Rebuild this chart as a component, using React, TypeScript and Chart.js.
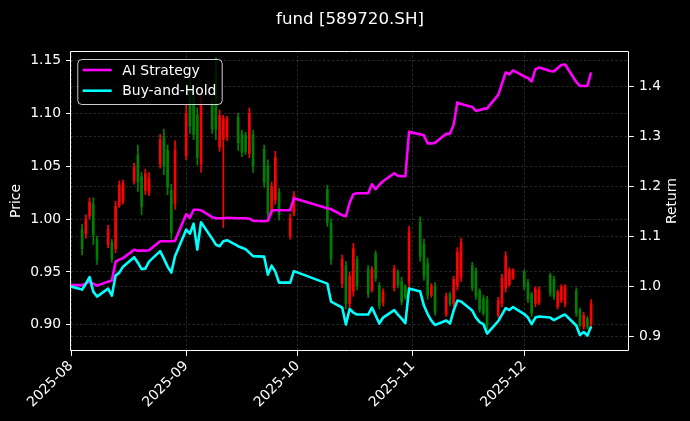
import React, { useEffect, useRef } from "react";
import { Chart, registerables } from "chart.js";

Chart.register(...registerables);
Chart.defaults.font.family = "'DejaVu Sans', sans-serif";
Chart.defaults.color = "#ffffff";

const chartTitle = "fund [589720.SH]";
const priceLabel = "Price";
const returnLabel = "Return";

const tradeDates = [
  "2025-08-01", "2025-08-04", "2025-08-05", "2025-08-06", "2025-08-07", "2025-08-08",
  "2025-08-11", "2025-08-12", "2025-08-13", "2025-08-14", "2025-08-15",
  "2025-08-18", "2025-08-19", "2025-08-20", "2025-08-21", "2025-08-22",
  "2025-08-25", "2025-08-26", "2025-08-27", "2025-08-28", "2025-08-29",
  "2025-09-01", "2025-09-02", "2025-09-03", "2025-09-04", "2025-09-05",
  "2025-09-08", "2025-09-09", "2025-09-10", "2025-09-11", "2025-09-12",
  "2025-09-15", "2025-09-16", "2025-09-17", "2025-09-18", "2025-09-19",
  "2025-09-22", "2025-09-23", "2025-09-24", "2025-09-25", "2025-09-26",
  "2025-09-29", "2025-09-30",
  "2025-10-09", "2025-10-10",
  "2025-10-13", "2025-10-14", "2025-10-15", "2025-10-16", "2025-10-17",
  "2025-10-20", "2025-10-21", "2025-10-22", "2025-10-23", "2025-10-24",
  "2025-10-27", "2025-10-28", "2025-10-29", "2025-10-30", "2025-10-31",
  "2025-11-03", "2025-11-04", "2025-11-05", "2025-11-06", "2025-11-07",
  "2025-11-10", "2025-11-11", "2025-11-12", "2025-11-13", "2025-11-14",
  "2025-11-17", "2025-11-18", "2025-11-19", "2025-11-20", "2025-11-21",
  "2025-11-24", "2025-11-25", "2025-11-26", "2025-11-27", "2025-11-28",
  "2025-12-01", "2025-12-02", "2025-12-03", "2025-12-04", "2025-12-05",
  "2025-12-08", "2025-12-09", "2025-12-10", "2025-12-11", "2025-12-12",
  "2025-12-15", "2025-12-16", "2025-12-17", "2025-12-18", "2025-12-19",
];

const aiStrategy = [
  1.002, 1.002, 1.005, 1.009, 1.005, 1.001,
  1.009, 1.011, 1.049, 1.053, 1.056,
  1.073, 1.071, 1.071, 1.071, 1.072,
  1.090, 1.090, 1.090, 1.090, 1.091,
  1.144, 1.137, 1.153, 1.153, 1.152,
  1.138, 1.136, 1.136, 1.136, 1.137,
  1.136, 1.136, 1.136, 1.135, 1.131,
  1.130, 1.131, 1.151, 1.152, 1.152,
  1.152, 1.176,
  1.156, 1.154,
  1.142, 1.140, 1.167, 1.184, 1.186,
  1.186, 1.204, 1.194, 1.203, 1.210,
  1.226, 1.221, 1.220, 1.220, 1.309,
  1.304, 1.302, 1.286, 1.286, 1.287,
  1.305, 1.305, 1.323, 1.368, 1.365,
  1.359, 1.351, 1.353, 1.355, 1.356,
  1.383, 1.405, 1.428, 1.424, 1.432,
  1.420, 1.417, 1.410, 1.434, 1.438,
  1.431, 1.430, 1.437, 1.443, 1.444,
  1.409, 1.401, 1.401, 1.401, 1.428,
];

const buyAndHold = [
  0.999, 0.993, 1.005, 1.018, 0.989, 0.979,
  0.995, 0.981, 1.021, 1.027, 1.039,
  1.058, 1.047, 1.034, 1.035, 1.049,
  1.070, 1.055, 1.039, 1.027, 1.060,
  1.113, 1.105, 1.125, 1.073, 1.128,
  1.095, 1.083, 1.080, 1.090, 1.092,
  1.080, 1.077, 1.074, 1.067, 1.060,
  1.059, 1.023, 1.041, 1.029, 1.007,
  1.007, 1.030,
  1.005, 0.969,
  0.957, 0.923, 0.954, 0.947, 0.943,
  0.943, 0.957, 0.941, 0.925, 0.937,
  0.952, 0.943, 0.935, 0.926, 0.995,
  0.989, 0.961, 0.944, 0.931, 0.922,
  0.931, 0.925, 0.951, 0.971, 0.969,
  0.951, 0.937, 0.928, 0.924, 0.905,
  0.930, 0.943, 0.956, 0.952, 0.958,
  0.944, 0.937, 0.924, 0.937, 0.939,
  0.937, 0.932, 0.936, 0.940, 0.943,
  0.921, 0.902, 0.908, 0.901, 0.919,
];

const openPrice = [
  null, 0.990, 0.986, 1.003, 1.014, 0.981,
  0.976, 0.978, 0.972, 1.013, 1.017,
  1.036, 1.060, 1.040, 1.027, 1.025,
  1.052, 1.078, 1.065, 1.027, 1.015,
  1.060, 1.125, 1.115, 1.098, 1.052,
  1.108, 1.140, 1.068, 1.075, 1.078,
  1.096, 1.080, 1.079, 1.062, 1.080,
  1.066, 1.050, 1.008, 1.018, 1.025,
  0.984, 1.006,
  1.028, 0.996,
  0.939, 0.956, 0.920, 0.932, 0.962,
  0.953, 0.933, 0.967, 0.937, 0.921,
  0.935, 0.950, 0.941, 0.936, 0.940,
  0.997, 0.976, 0.958, 0.928, 0.936,
  0.910, 0.929, 0.920, 0.937, 0.945,
  0.956, 0.951, 0.932, 0.925, 0.924,
  0.909, 0.920, 0.935, 0.938, 0.944,
  0.950, 0.940, 0.929, 0.920, 0.921,
  0.947, 0.943, 0.917, 0.923, 0.920,
  0.932, 0.914, 0.898, 0.906, 0.901,
];

const highPrice = [
  null, 0.995, 1.004, 1.020, 1.020, 0.984,
  0.994, 0.981, 1.017, 1.036, 1.037,
  1.053, 1.070, 1.044, 1.047, 1.044,
  1.080, 1.085, 1.070, 1.033, 1.074,
  1.108, 1.135, 1.120, 1.105, 1.122,
  1.113, 1.152, 1.103, 1.098, 1.097,
  1.100, 1.084, 1.082, 1.105, 1.084,
  1.070, 1.056, 1.035, 1.064, 1.029,
  1.005, 1.026,
  1.032, 1.000,
  0.966, 0.960, 0.950, 0.977, 0.965,
  0.956, 0.955, 0.970, 0.940, 0.934,
  0.956, 0.952, 0.945, 0.938, 0.993,
  1.002, 0.981, 0.963, 0.939, 0.940,
  0.930, 0.931, 0.946, 0.973, 0.982,
  0.959, 0.954, 0.934, 0.928, 0.927,
  0.926, 0.948, 0.969, 0.954, 0.953,
  0.952, 0.943, 0.931, 0.936, 0.936,
  0.949, 0.946, 0.933, 0.938, 0.938,
  0.935, 0.916, 0.912, 0.908, 0.924,
];

const lowPrice = [
  null, 0.966, 0.982, 1.000, 0.976, 0.957,
  0.973, 0.959, 0.968, 1.011, 1.014,
  1.033, 1.026, 1.004, 1.023, 1.022,
  1.048, 1.042, 1.023, 0.981, 1.009,
  1.056, 1.081, 1.075, 1.051, 1.044,
  1.081, 1.075, 1.064, 0.992, 1.074,
  1.065, 1.059, 1.061, 1.058, 1.044,
  1.030, 0.999, 1.004, 1.014, 0.999,
  0.981, 1.003,
  0.993, 0.957,
  0.935, 0.915, 0.916, 0.927, 0.933,
  0.926, 0.931, 0.941, 0.915, 0.918,
  0.932, 0.935, 0.919, 0.924, 0.935,
  0.960, 0.942, 0.924, 0.926, 0.909,
  0.908, 0.918, 0.917, 0.933, 0.941,
  0.932, 0.924, 0.912, 0.909, 0.896,
  0.907, 0.917, 0.931, 0.936, 0.943,
  0.933, 0.921, 0.908, 0.917, 0.919,
  0.927, 0.924, 0.915, 0.921, 0.917,
  0.908, 0.898, 0.896, 0.896, 0.898,
];

const closePrice = [
  null, 0.972, 1.000, 1.016, 0.985, 0.962,
  0.990, 0.962, 1.012, 1.032, 1.034,
  1.049, 1.035, 1.012, 1.043, 1.038,
  1.075, 1.050, 1.030, 0.987, 1.065,
  1.100, 1.088, 1.080, 1.058, 1.112,
  1.085, 1.085, 1.098, 1.095, 1.094,
  1.072, 1.063, 1.064, 1.100, 1.050,
  1.035, 1.005, 1.031, 1.058, 1.004,
  1.001, 1.022,
  0.997, 0.962,
  0.962, 0.920, 0.946, 0.972, 0.937,
  0.929, 0.952, 0.944, 0.918, 0.931,
  0.953, 0.938, 0.922, 0.926, 0.988,
  0.965, 0.946, 0.928, 0.937, 0.912,
  0.927, 0.920, 0.943, 0.969, 0.978,
  0.935, 0.927, 0.914, 0.911, 0.899,
  0.923, 0.944, 0.965, 0.952, 0.952,
  0.936, 0.924, 0.911, 0.934, 0.933,
  0.930, 0.927, 0.931, 0.936, 0.935,
  0.911, 0.900, 0.909, 0.898, 0.920,
];

const priceTicks = [0.9, 0.95, 1.0, 1.05, 1.1, 1.15];
const returnTicks = [0.9, 1.0, 1.1, 1.2, 1.3, 1.4];
const monthTicks = ["2025-08", "2025-09", "2025-10", "2025-11", "2025-12"];

const xStart = "2025-08-01";
const xEnd = "2025-12-29";
const priceRange = [0.8753, 1.1588];
const returnRange = [0.87, 1.471];

const UP = "#ff0000";
const DOWN = "#008000";
const AI_COLOR = "#ff00ff";
const BH_COLOR = "#00ffff";
const GRID = "rgba(255,255,255,0.26)";
const FONT = 13.9;
const LINE_W = 2.6;

const DAY = 86400000;
const toDay = (s: string) => {
  const [y, m, d] = s.split("-").map(Number);
  return Date.UTC(y, m - 1, d || 1) / DAY;
};

const xs = tradeDates.map(toDay);
const monthValues = monthTicks.map(toDay);

export default function App() {
  const ref = useRef<HTMLCanvasElement | null>(null);

  useEffect(() => {
    if (!ref.current) return;
    const idx = tradeDates.map((_, i) => i).filter((i) => openPrice[i] != null);
    const isUp = (i: number) => (closePrice[i] as number) >= (openPrice[i] as number);
    const candleColors = idx.map((i) => (isUp(i) ? UP : DOWN));

    const decor = {
      id: "decor",
      beforeDraw(chart: any) {
        const { ctx, width, height } = chart;
        ctx.save();
        ctx.fillStyle = "#000";
        ctx.fillRect(0, 0, width, height);
        ctx.restore();
      },
      afterDraw(chart: any) {
        const { ctx, chartArea: a } = chart;
        ctx.save();
        // spines
        ctx.strokeStyle = "#ffffff";
        ctx.lineWidth = 1;
        const l = Math.round(a.left) - 0.5;
        const r = Math.round(a.right) - 0.5;
        const t = Math.round(a.top) + 0.5;
        const b = Math.round(a.bottom) - 0.5;
        ctx.beginPath();
        ctx.rect(l, t, r - l, b - t);
        ctx.stroke();

        // title
        ctx.fillStyle = "#ffffff";
        ctx.font = `16.67px 'DejaVu Sans', sans-serif`;
        ctx.textAlign = "center";
        ctx.textBaseline = "alphabetic";
        ctx.fillText(chartTitle, (a.left + a.right) / 2, 24);

        // right axis label
        ctx.save();
        ctx.translate(a.right + 43.5, (a.top + a.bottom) / 2);
        ctx.rotate(-Math.PI / 2);
        ctx.font = `${FONT}px 'DejaVu Sans', sans-serif`;
        ctx.textAlign = "center";
        ctx.textBaseline = "middle";
        ctx.fillText(returnLabel, 0, 0);
        ctx.restore();

        // legend
        const lx = a.left + 6.3;
        const ly = a.top + 8;
        const lw = 144.4;
        const lh = 45;
        ctx.beginPath();
        ctx.roundRect(lx + 0.5, ly + 0.5, lw, lh, 4);
        ctx.fillStyle = "rgba(0,0,0,0.8)";
        ctx.fill();
        ctx.strokeStyle = "rgba(255,255,255,0.8)";
        ctx.lineWidth = 1;
        ctx.stroke();
        const items = [chart.data.datasets[1], chart.data.datasets[0]];
        items.forEach((ds: any, k: number) => {
          const y = ly + 11 + k * 20.7;
          ctx.strokeStyle = ds.borderColor;
          ctx.lineWidth = LINE_W;
          ctx.beginPath();
          ctx.moveTo(lx + 5.4, y);
          ctx.lineTo(lx + 34.4, y);
          ctx.stroke();
          ctx.fillStyle = "#ffffff";
          ctx.font = `${FONT}px 'DejaVu Sans', sans-serif`;
          ctx.textAlign = "left";
          ctx.textBaseline = "alphabetic";
          ctx.fillText(ds.label, lx + 45, y + 4.6);
        });
        ctx.restore();
      },
    };

    const gridCommon = {
      color: GRID,
      lineWidth: 0.6,
      tickColor: "#ffffff",
      tickWidth: 1,
      tickLength: 4.9,
      drawTicks: true,
    };
    const gridDash = [2.5, 2];

    const chart = new Chart(ref.current, {
      type: "line",
      data: {
        datasets: [
          {
            type: "line",
            label: "Buy-and-Hold",
            data: xs.map((x, i) => ({ x, y: buyAndHold[i] })),
            borderColor: BH_COLOR,
            backgroundColor: BH_COLOR,
            borderWidth: LINE_W,
            pointRadius: 0,
            tension: 0,
            yAxisID: "y1",
            order: 0,
            borderJoinStyle: "round",
          },
          {
            type: "line",
            label: "AI Strategy",
            data: xs.map((x, i) => ({ x, y: aiStrategy[i] })),
            borderColor: AI_COLOR,
            backgroundColor: AI_COLOR,
            borderWidth: LINE_W,
            pointRadius: 0,
            tension: 0,
            yAxisID: "y1",
            order: 1,
            borderJoinStyle: "round",
          },
          {
            type: "bar",
            label: "body",
            data: idx.map((i) => ({
              x: xs[i],
              y: [
                Math.min(openPrice[i] as number, closePrice[i] as number),
                Math.max(openPrice[i] as number, closePrice[i] as number),
              ],
            })),
            backgroundColor: candleColors,
            borderWidth: 0,
            barThickness: 2,
            grouped: false,
            yAxisID: "y",
            order: 2,
          },
          {
            type: "bar",
            label: "wick",
            data: idx.map((i) => ({ x: xs[i], y: [lowPrice[i], highPrice[i]] })),
            backgroundColor: candleColors,
            borderWidth: 0,
            barThickness: 1,
            grouped: false,
            yAxisID: "y",
            order: 3,
          },
        ] as any,
      },
      options: {
        responsive: false,
        animation: false,
        events: [],
        layout: { padding: { top: 51, left: 0, right: 0, bottom: 0 }, autoPadding: false },
        plugins: {
          legend: { display: false },
          title: { display: false },
          tooltip: { enabled: false },
        },
        scales: {
          x: {
            type: "linear",
            min: toDay(xStart),
            max: toDay(xEnd) + 0.2,
            offset: false,
            afterBuildTicks: (s: any) => {
              s.ticks = monthValues.map((v) => ({ value: v }));
            },
            afterFit: (s: any) => {
              s.height = 70;
            },
            ticks: {
              color: "#ffffff",
              font: { size: FONT },
              minRotation: 45,
              maxRotation: 45,
              autoSkip: false,
              padding: 2,
              callback: (v: any) => {
                const k = monthValues.indexOf(Number(v));
                return k >= 0 ? monthTicks[k] : "";
              },
            },
            grid: { ...gridCommon, offset: false },
            border: { display: false, dash: gridDash },
          },
          y: {
            type: "linear",
            position: "left",
            min: priceRange[0],
            max: priceRange[1],
            afterBuildTicks: (s: any) => {
              s.ticks = priceTicks.map((v) => ({ value: v }));
            },
            afterFit: (s: any) => {
              s.width = 71;
            },
            ticks: {
              color: "#ffffff",
              font: { size: FONT },
              padding: 5,
              callback: (v: any) => Number(v).toFixed(2),
            },
            title: {
              display: true,
              text: priceLabel,
              color: "#ffffff",
              font: { size: FONT },
              padding: { top: 7.7, bottom: 0 },
            },
            grid: gridCommon,
            border: { display: false, dash: gridDash },
          },
          y1: {
            type: "linear",
            position: "right",
            min: returnRange[0],
            max: returnRange[1],
            afterBuildTicks: (s: any) => {
              s.ticks = returnTicks.map((v) => ({ value: v }));
            },
            afterFit: (s: any) => {
              s.width = 61;
            },
            ticks: {
              color: "#ffffff",
              font: { size: FONT },
              padding: 5,
              callback: (v: any) => Number(v).toFixed(1),
            },
            grid: gridCommon,
            border: { display: false, dash: gridDash },
          },
        },
      } as any,
      plugins: [decor],
    });

    return () => chart.destroy();
  }, []);

  return (
    <div style={{ position: "absolute", left: 0, top: 0, width: 690, height: 421, background: "#000" }}>
      <canvas ref={ref} width={690} height={421} style={{ display: "block", width: 690, height: 421 }} />
    </div>
  );
}
